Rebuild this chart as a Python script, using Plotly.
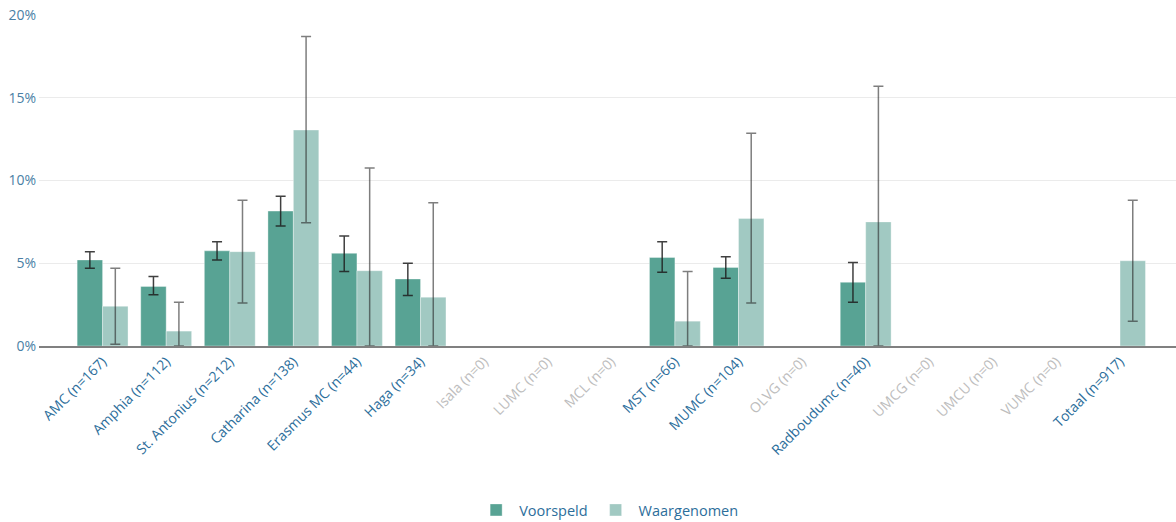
import plotly.graph_objects as go

categories = ["AMC (n=167)", "Amphia (n=112)", "St. Antonius (n=212)", "Catharina (n=138)",
              "Erasmus MC (n=44)", "Haga (n=34)", "Isala (n=0)", "LUMC (n=0)", "MCL (n=0)",
              "MST (n=66)", "MUMC (n=104)", "OLVG (n=0)", "Radboudumc (n=40)", "UMCG (n=0)",
              "UMCU (n=0)", "VUMC (n=0)", "Totaal (n=917)"]
active = [True, True, True, True, True, True, False, False, False,
          True, True, False, True, False, False, False, True]

voorspeld = [5.2, 3.6, 5.75, 8.15, 5.6, 4.05, None, None, None, 5.35, 4.75, None, 3.85, None, None, None, None]
voorspeld_lo = [4.7, 3.1, 5.2, 7.25, 4.5, 3.05, None, None, None, 4.45, 4.1, None, 2.65, None, None, None, None]
voorspeld_hi = [5.7, 4.2, 6.3, 9.05, 6.65, 5.0, None, None, None, 6.3, 5.4, None, 5.05, None, None, None, None]

waargenomen = [2.4, 0.9, 5.7, 13.05, 4.55, 2.95, None, None, None, 1.5, 7.7, None, 7.5, None, None, None, 5.15]
waargenomen_lo = [0.1, 0.0, 2.6, 7.45, 0.0, 0.0, None, None, None, 0.0, 2.6, None, 0.0, None, None, None, 1.5]
waargenomen_hi = [4.7, 2.65, 8.8, 18.7, 10.75, 8.65, None, None, None, 4.5, 12.85, None, 15.7, None, None, None, 8.8]

y_ticks = [0, 5, 10, 15, 20]
y_labels = ["0%", "5%", "10%", "15%", "20%"]


def plus(v, hi):
    return [None if a is None else h - a for a, h in zip(v, hi)]


def minus(v, lo):
    return [None if a is None else a - l for a, l in zip(v, lo)]


fig = go.Figure()
fig.add_trace(go.Bar(
    name="Voorspeld", x=categories, y=voorspeld,
    marker=dict(color="#58a394", line=dict(color="rgba(255,255,255,0.35)", width=1)),
    error_y=dict(type="data", symmetric=False, array=plus(voorspeld, voorspeld_hi),
                 arrayminus=minus(voorspeld, voorspeld_lo),
                 color="rgba(30,30,30,0.85)", thickness=1.5, width=5),
))
fig.add_trace(go.Bar(
    name="Waargenomen", x=categories, y=waargenomen,
    marker=dict(color="#a1c9c2", line=dict(color="rgba(255,255,255,0.35)", width=1)),
    error_y=dict(type="data", symmetric=False, array=plus(waargenomen, waargenomen_hi),
                 arrayminus=minus(waargenomen, waargenomen_lo),
                 color="rgba(40,40,40,0.6)", thickness=1.5, width=5),
))

ticktext = [c if a else '<span style="color:#bdbdbd">%s</span>' % c for c, a in zip(categories, active)]

fig.update_layout(
    width=1176, height=522,
    barmode="group", bargap=0.2, bargroupgap=0,
    plot_bgcolor="white", paper_bgcolor="white",
    font=dict(family="Open Sans, Noto Sans, sans-serif", size=14, color="#2c6e9b"),
    margin=dict(l=39, r=0, t=15, b=176),
    xaxis=dict(
        type="category", range=[-1.0, 16.88],
        tickmode="array", tickvals=categories, ticktext=ticktext,
        tickangle=-45, tickfont=dict(size=14, color="#2c6e9b"),
        showline=True, linecolor="#808080", linewidth=2,
        showgrid=False, ticks="", fixedrange=True,
    ),
    yaxis=dict(
        range=[0, 20], tickmode="array", tickvals=y_ticks, ticktext=y_labels,
        tickfont=dict(size=14, color="#4a7fa5"),
        showgrid=True, gridcolor="#ebebeb", gridwidth=1,
        zeroline=False, ticks="", ticklabelstandoff=2,
    ),
    legend=dict(orientation="h", x=0.501, xanchor="center", y=0.023, yref="container",
                yanchor="middle", font=dict(size=14.5, color="#2c6e9b"), itemwidth=36,
                traceorder="normal"),
    showlegend=True,
)

fig.write_html("out.html", config={"displayModeBar": False},
               post_script="document.body.style.margin='0';document.body.style.overflow='hidden';")
